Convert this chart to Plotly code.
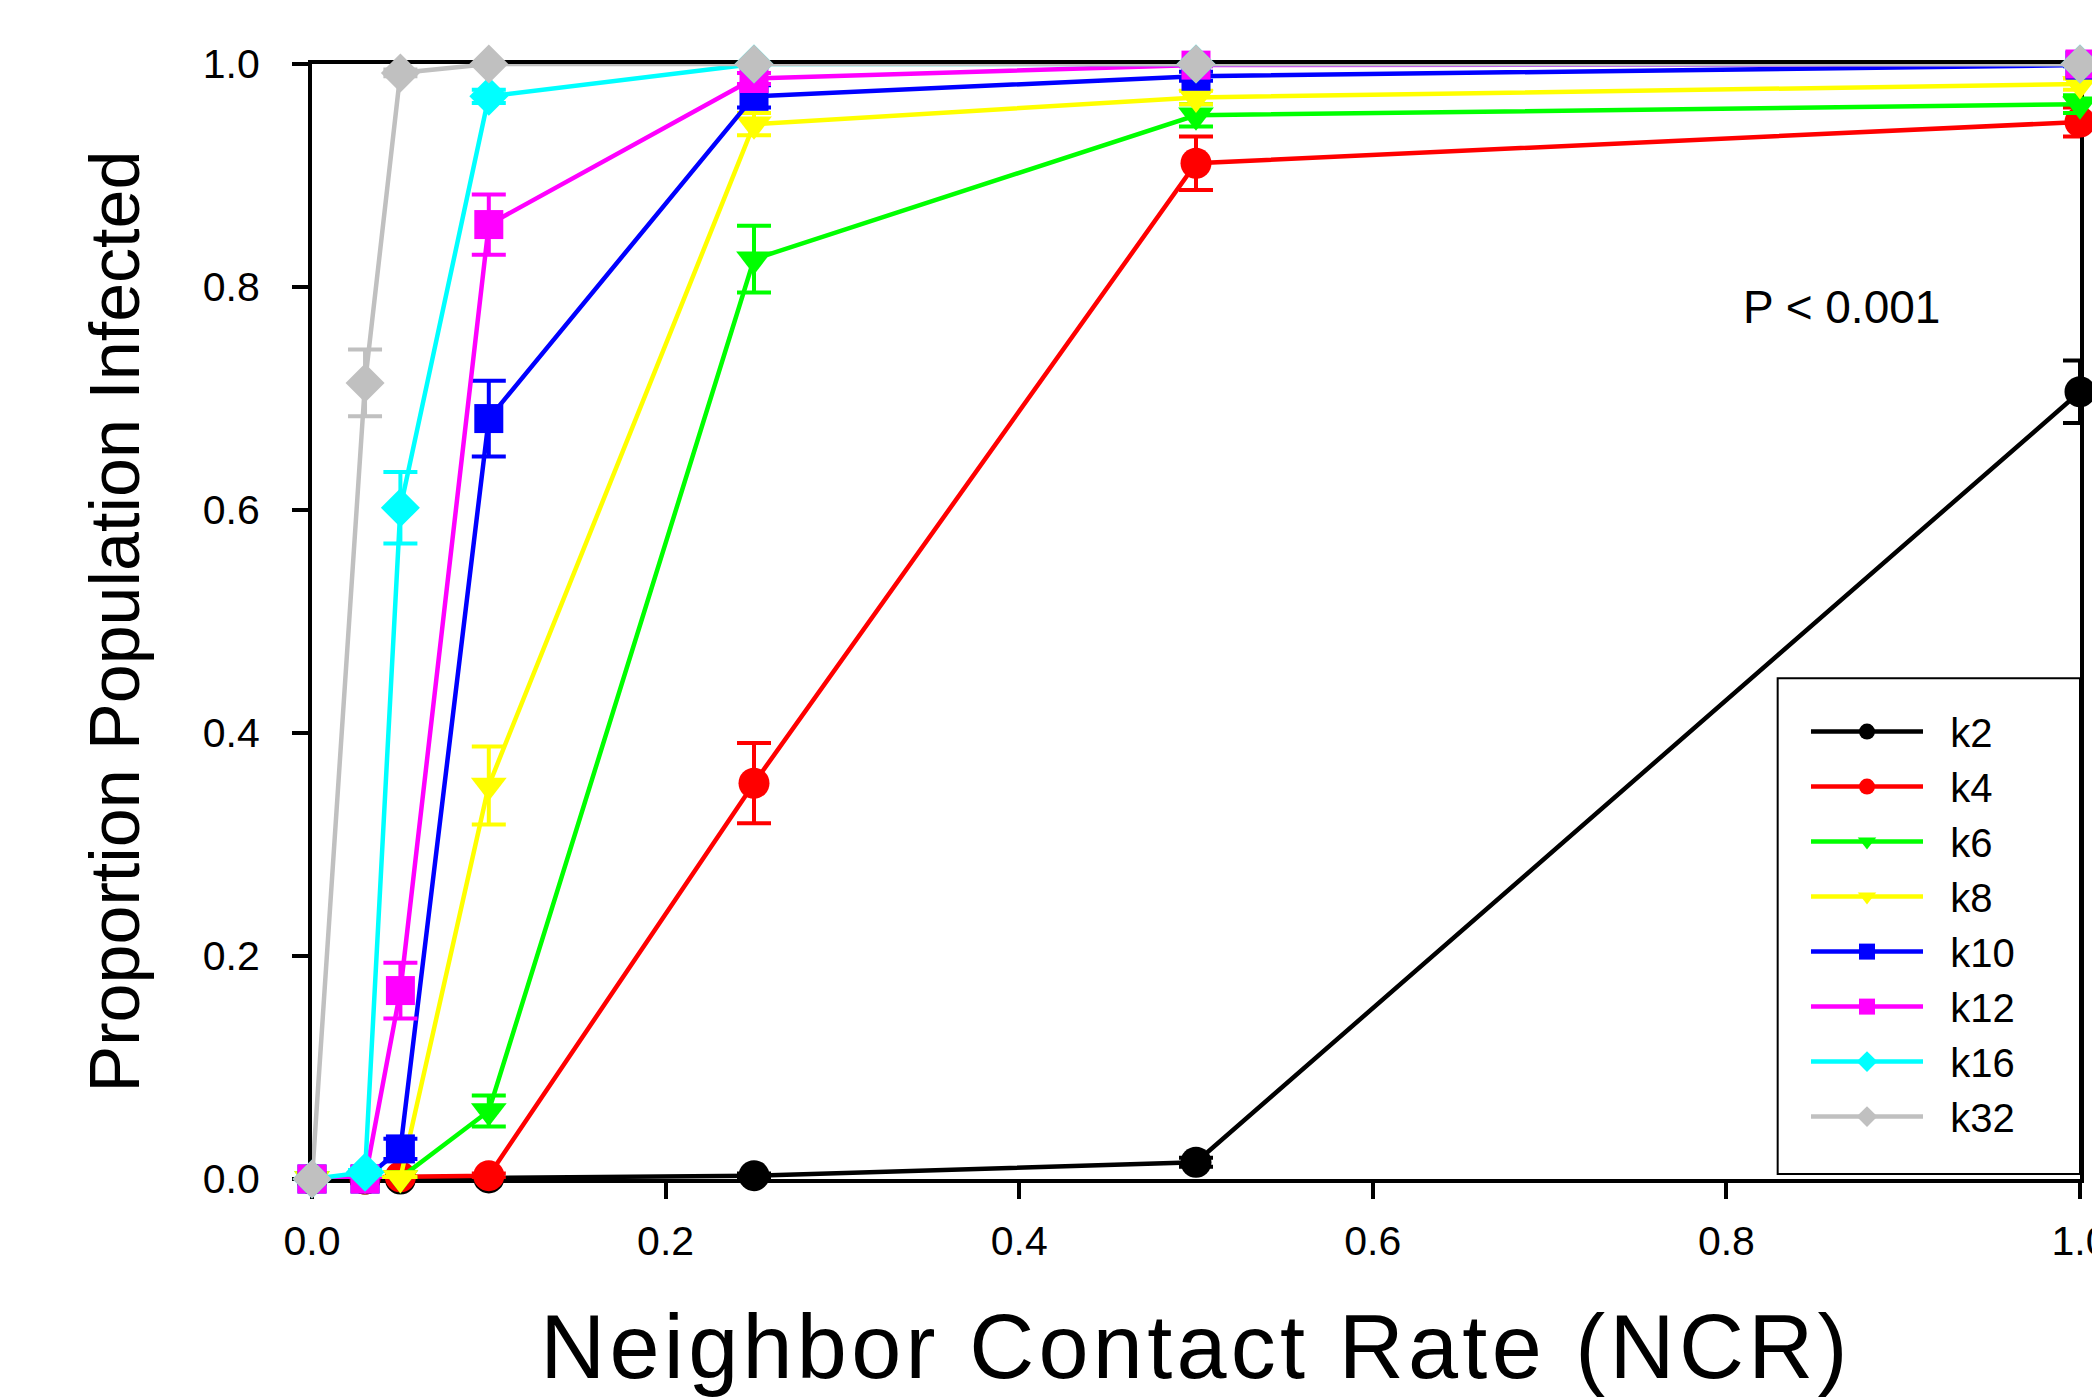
import plotly.graph_objects as go

# ---- data ----
ncr = [0.0, 0.03, 0.05, 0.1, 0.25, 0.5, 1.0]

series_names = ["k2", "k4", "k6", "k8", "k10", "k12", "k16", "k32"]

k2 = [0.0, 0.0, 0.0, 0.001, 0.003, 0.015, 0.706]
k2_err = [0.0, 0.0, 0.0, 0.0, 0.002, 0.004, 0.028]
k4 = [0.0, 0.0, 0.002, 0.003, 0.355, 0.911, 0.948]
k4_err = [0.0, 0.0, 0.0, 0.002, 0.036, 0.024, 0.013]
k6 = [0.0, 0.0, 0.001, 0.061, 0.825, 0.954, 0.964]
k6_err = [0.0, 0.0, 0.0, 0.014, 0.030, 0.010, 0.008]
k8 = [0.0, 0.0, 0.001, 0.353, 0.946, 0.970, 0.982]
k8_err = [0.0, 0.0, 0.001, 0.035, 0.010, 0.006, 0.005]
k10 = [0.0, 0.0, 0.027, 0.682, 0.971, 0.989, 0.999]
k10_err = [0.0, 0.0, 0.009, 0.034, 0.010, 0.004, 0.001]
k12 = [0.0, 0.0, 0.169, 0.856, 0.987, 0.999, 1.0]
k12_err = [0.0, 0.0, 0.025, 0.027, 0.005, 0.001, 0.0]
k16 = [0.0, 0.006, 0.602, 0.971, 1.0, 1.0, 1.0]
k16_err = [0.0, 0.002, 0.032, 0.006, 0.0, 0.0, 0.0]
k32 = [0.0, 0.714, 0.992, 1.0, 1.0, 1.0, 1.0]
k32_err = [0.0, 0.030, 0.003, 0.0, 0.0, 0.0, 0.0]

values = [k2, k4, k6, k8, k10, k12, k16, k32]
errors = [k2_err, k4_err, k6_err, k8_err, k10_err, k12_err, k16_err, k32_err]

colors = ["#000000", "#ff0000", "#00ff00", "#ffff00", "#0000ff", "#ff00ff", "#00ffff", "#c0c0c0"]
symbols = ["circle", "circle", "triangle-down", "triangle-down", "square", "square", "diamond", "diamond"]
sizes = [31, 31, 31, 31, 29, 29, 30, 30]

x_ticks = [0.0, 0.2, 0.4, 0.6, 0.8, 1.0]
y_ticks = [0.0, 0.2, 0.4, 0.6, 0.8, 1.0]

FONT = "Liberation Sans, Arial, sans-serif"

fig = go.Figure()
for name, y, e, c, s, sz in zip(series_names, values, errors, colors, symbols, sizes):
    fig.add_trace(go.Scatter(
        x=ncr, y=y, name="\u00a0\u00a0" + name, mode="lines+markers",
        line=dict(color=c, width=4.5),
        marker=dict(symbol=s, size=sz, color=c, line=dict(width=0)),
        error_y=dict(type="data", array=e, visible=True, color=c, thickness=4, width=17),
        cliponaxis=False,
    ))

axis_common = dict(
    showline=True, linecolor="black", linewidth=4, mirror=True,
    ticks="outside", ticklen=16, tickwidth=4, tickcolor="black",
    showgrid=False, zeroline=False, layer="below traces",
    tickfont=dict(family=FONT, size=41, color="black"),
    tickformat=".1f", automargin=False, ticklabeloverflow="allow",
)

fig.update_layout(
    width=2092, height=1397,
    margin=dict(l=312, r=12, t=64, b=218),
    paper_bgcolor="white", plot_bgcolor="white",
    showlegend=True,
    xaxis=dict(range=[0, 1], tickvals=x_ticks, ticklabelstandoff=7,
               title=dict(text='<span style="letter-spacing:4.3px">Neighbor Contact Rate (NCR)</span>',
                          standoff=75,
                          font=dict(family=FONT, size=90, color="black")),
               **axis_common),
    yaxis=dict(range=[0, 1], tickvals=y_ticks, ticklabelstandoff=24,
               title=dict(text="Proportion Population Infected", standoff=41,
                          font=dict(family=FONT, size=70, color="black")),
               **axis_common),
    legend=dict(x=(1806 - 312) / 1768, xanchor="left", y=0.4304, yanchor="top",
                bgcolor="rgba(0,0,0,0)", borderwidth=0,
                font=dict(family=FONT, size=40, color="black"),
                itemwidth=112, tracegroupgap=0, itemsizing="trace"),
    shapes=[dict(type="rect", xref="paper", yref="paper",
                 x0=0.829, x1=1.0, y0=0.0045, y1=0.449,
                 line=dict(color="black", width=2), fillcolor="rgba(0,0,0,0)",
                 layer="above")],
    annotations=[dict(text="P < 0.001", xref="paper", yref="y", x=0.808, y=0.782,
                      xanchor="left", yanchor="middle", showarrow=False,
                      font=dict(family=FONT, size=46, color="black"))],
)

fig.write_html("out.html", config={"displayModeBar": False},
               post_script="document.body.style.margin='0';document.body.style.overflow='hidden';")
